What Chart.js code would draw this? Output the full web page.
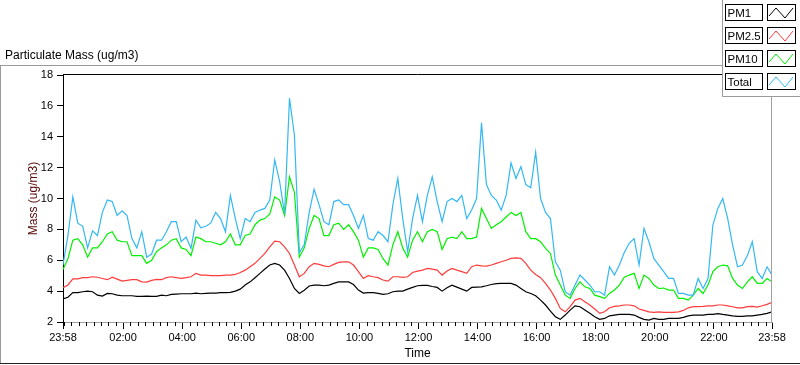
<!DOCTYPE html>
<html>
<head>
<meta charset="utf-8">
<script src="https://cdn.jsdelivr.net/npm/chart.js@4.4.0/dist/chart.umd.min.js"></script>
<style>
  html, body { margin: 0; padding: 0; background: #fff; }
  #wrap { width: 800px; height: 365px; position: relative; }
</style>
</head>
<body>
<div id="wrap"><canvas id="graph" width="800" height="365"></canvas></div>
<script>
// samples every 10 minutes, starting at 23:58
const STEP_MIN = 10;

const pm1 = [
  3.5, 3.6, 3.9, 3.9, 3.96, 4.0, 3.96, 3.74, 3.68, 3.85, 3.83, 3.74, 3.7, 3.7, 3.7, 3.66, 3.66, 3.68, 3.66, 3.66, 3.74, 3.7, 3.79, 3.81, 3.83, 3.83, 3.83, 3.87, 3.83,
  3.85, 3.87, 3.87, 3.9, 3.9, 3.92, 4.0, 4.13, 4.39, 4.6, 4.87, 5.15, 5.43, 5.69, 5.8, 5.69, 5.36, 4.82, 4.17, 3.85, 4.06, 4.33, 4.39, 4.39, 4.35, 4.39, 4.5, 4.6, 4.6,
  4.6, 4.43, 4.07, 3.87, 3.9, 3.9, 3.85, 3.79, 3.83, 3.96, 4.0, 4.0, 4.13, 4.24, 4.35, 4.37, 4.37, 4.3, 4.24, 4.0, 4.22, 4.39, 4.26, 4.13, 4.0, 4.24, 4.26, 4.28,
  4.35, 4.43, 4.48, 4.5, 4.5, 4.5, 4.39, 4.17, 3.96, 3.85, 3.7, 3.42, 3.1, 2.71, 2.34, 2.17, 2.45, 2.77, 3.05, 2.99, 2.77, 2.56, 2.34, 2.17, 2.23, 2.4, 2.45, 2.49, 2.49,
  2.49, 2.45, 2.3, 2.17, 2.12, 2.23, 2.17, 2.17, 2.23, 2.23, 2.23, 2.3, 2.4, 2.45, 2.45, 2.45, 2.49, 2.49, 2.54, 2.49, 2.45, 2.4, 2.36, 2.36, 2.4, 2.4, 2.45, 2.49, 2.56, 2.66
];

const pm25 = [
  4.22, 4.4, 4.8, 4.8, 4.87, 4.87, 4.93, 4.9, 4.82, 4.74, 4.9, 4.78, 4.65, 4.7, 4.74, 4.74, 4.6, 4.58, 4.7, 4.76, 4.74, 4.87, 4.93, 4.87, 4.82, 4.87, 4.93, 5.15, 5.04,
  5.04, 5.0, 5.0, 5.0, 5.04, 5.04, 5.08, 5.21, 5.36, 5.58, 5.8, 6.12, 6.44, 6.87, 7.24, 7.2, 6.87, 6.44, 5.69, 4.93, 5.15, 5.58, 5.8, 5.73, 5.64, 5.58, 5.73, 5.86, 5.9,
  5.9, 5.69, 5.26, 4.82, 5.0, 4.93, 4.87, 4.72, 4.65, 4.93, 4.93, 4.89, 4.93, 5.21, 5.3, 5.36, 5.47, 5.43, 5.36, 5.04, 5.3, 5.47, 5.36, 5.26, 5.15, 5.58, 5.69, 5.64,
  5.62, 5.69, 5.8, 5.9, 6.0, 6.12, 6.16, 6.12, 5.8, 5.36, 5.08, 4.87, 4.5, 4.07, 3.53, 2.88, 2.66, 2.99, 3.42, 3.53, 3.31, 3.1, 2.84, 2.56, 2.66, 2.92, 3.01, 3.05, 3.1,
  3.1, 3.05, 2.84, 2.75, 2.66, 2.62, 2.66, 2.62, 2.62, 2.62, 2.66, 2.75, 2.92, 2.99, 2.99, 3.01, 3.05, 3.05, 3.1, 3.1, 3.05, 2.99, 2.92, 2.92, 2.99, 3.01, 2.97, 3.05, 3.14, 3.27
];

const pm10 = [
  5.4, 6.1, 7.3, 7.4, 7.0, 6.2, 6.8, 6.8, 7.2, 7.7, 7.85, 7.3, 7.2, 7.2, 6.3, 6.3, 6.3, 5.8, 6.0, 6.55, 6.8, 7.0, 7.3, 7.4, 6.8, 6.7, 6.3, 7.5, 7.4,
  7.2, 7.2, 7.1, 7.0, 7.2, 7.7, 7.0, 7.0, 7.6, 7.7, 8.3, 8.6, 8.7, 9.0, 10.1, 9.9, 8.9, 11.4, 10.4, 6.2, 6.8, 8.06, 8.9, 8.7, 7.6, 7.6, 8.3, 8.4, 8.0,
  8.3, 7.85, 7.3, 6.2, 6.8, 6.8, 6.7, 6.1, 5.69, 7.0, 7.85, 6.8, 6.2, 7.3, 7.85, 7.2, 7.85, 8.0, 7.85, 6.7, 7.4, 7.5, 7.4, 7.85, 7.4, 7.4, 7.5, 9.36,
  8.7, 8.06, 8.3, 8.5, 8.8, 9.1, 8.9, 9.1, 7.85, 7.4, 7.4, 7.2, 6.77, 6.44, 5.04, 4.39, 3.74, 3.53, 4.17, 4.6, 4.28, 4.17, 3.74, 3.64, 3.53, 3.85, 4.07, 4.39, 4.9,
  5.04, 5.15, 4.17, 5.04, 4.82, 4.39, 4.17, 4.2, 4.07, 4.07, 3.53, 3.53, 3.42, 3.74, 4.17, 3.85, 4.39, 5.26, 5.58, 5.69, 5.64, 4.82, 4.39, 4.17, 4.6, 4.93, 4.5, 4.5, 4.82, 4.6
];

const total = [
  5.7, 7.6, 10.1, 8.4, 8.2, 6.8, 7.9, 7.6, 9.1, 9.9, 9.8, 8.9, 9.2, 8.9, 7.4, 6.8, 7.85, 6.2, 6.4, 7.3, 7.3, 7.85, 8.5, 8.5, 7.2, 7.5, 6.77, 8.6, 8.1,
  8.2, 8.4, 9.1, 8.7, 7.85, 10.2, 8.7, 7.4, 8.7, 8.5, 9.1, 9.25, 9.36, 9.9, 12.5, 11.1, 9.0, 16.5, 14.1, 6.5, 7.0, 9.1, 10.6, 9.6, 8.5, 8.3, 9.8, 9.9, 9.6,
  9.6, 8.9, 8.06, 8.9, 7.4, 7.3, 7.85, 7.6, 7.2, 9.6, 11.3, 8.7, 6.55, 8.7, 10.2, 8.5, 10.2, 11.4, 9.8, 8.5, 9.8, 10.0, 9.8, 10.2, 8.7, 9.25, 10.0, 14.9,
  10.9, 10.2, 9.9, 9.25, 10.2, 12.3, 11.3, 12.06, 10.9, 10.7, 13.0, 10.0, 9.1, 8.7, 5.9, 5.36, 3.96, 3.74, 4.39, 5.04, 4.72, 4.39, 3.96, 3.96, 3.74, 5.58, 5.04, 5.69, 6.5,
  7.1, 7.4, 5.69, 8.06, 7.2, 6.12, 5.69, 5.26, 4.82, 4.82, 3.85, 3.85, 3.74, 3.74, 4.82, 4.17, 4.82, 8.3, 9.36, 10.0, 8.7, 7.0, 5.58, 5.69, 6.3, 7.2, 5.26, 4.82, 5.58, 5.04
];

// x ticks: minutes after 23:58
const tickMinutes = [0, 122, 242, 362, 482, 602, 722, 842, 962, 1082, 1202, 1322, 1440];
const tickLabels = ["23:58", "02:00", "04:00", "06:00", "08:00", "10:00", "12:00", "14:00", "16:00", "18:00", "20:00", "22:00", "23:58"];
const yTicks = [2, 4, 6, 8, 10, 12, 14, 16, 18];

const seriesNames = ["PM1", "PM2.5", "PM10", "Total"];
const seriesColors = ["#000000", "#ff3b3b", "#00f000", "#33b8f5"];
const seriesValues = [pm1, pm25, pm10, total];

const FONT = "'Liberation Sans', Arial, sans-serif";

function toPoints(arr) {
  return arr.map((v, i) => ({ x: i * STEP_MIN, y: v }));
}

const framePlugin = {
  id: 'labviewFrame',
  beforeDraw: (chart) => {
    const { ctx } = chart;
    ctx.save();
    ctx.fillStyle = '#fff';
    ctx.fillRect(0, 0, chart.width, chart.height);
    ctx.fillStyle = '#000';
    ctx.font = '12px ' + FONT;
    ctx.textBaseline = 'alphabetic';
    ctx.fillText('Particulate Mass (ug/m3)', 5, 59);
    ctx.lineWidth = 1;
    ctx.strokeStyle = '#9a9a9a';
    ctx.beginPath();
    ctx.moveTo(0, 65.5); ctx.lineTo(722, 65.5);
    ctx.moveTo(0.5, 65); ctx.lineTo(0.5, 363);
    ctx.stroke();
    ctx.strokeStyle = '#222';
    ctx.beginPath();
    ctx.moveTo(0, 363.5); ctx.lineTo(800, 363.5);
    ctx.stroke();
    ctx.restore();
  },
  afterDraw: (chart) => {
    const { ctx, chartArea: a } = chart;
    const xs = chart.scales.x;
    ctx.save();
    ctx.lineWidth = 1;
    // plot frame: top dark, right light
    ctx.strokeStyle = '#000';
    ctx.beginPath();
    ctx.moveTo(a.left, a.top - 0.5); ctx.lineTo(a.right, a.top - 0.5);
    ctx.stroke();
    ctx.strokeStyle = '#a0a0a0';
    ctx.beginPath();
    ctx.moveTo(a.right - 0.5, a.top); ctx.lineTo(a.right - 0.5, a.bottom);
    ctx.stroke();
    // minor ticks every 15 min
    ctx.strokeStyle = '#000';
    ctx.beginPath();
    for (let m = 2; m < 1440; m += 15) {
      if (tickMinutes.indexOf(m) >= 0) continue;
      const px = Math.round(xs.getPixelForValue(m)) + 0.5;
      ctx.moveTo(px, a.bottom); ctx.lineTo(px, a.bottom + 4);
    }
    ctx.stroke();

    // legend panel
    ctx.fillStyle = '#fff';
    ctx.fillRect(722, 0, 78, 96);
    ctx.strokeStyle = '#9a9a9a';
    ctx.beginPath();
    ctx.moveTo(722.5, 0); ctx.lineTo(722.5, 96.5); ctx.lineTo(800, 96.5);
    ctx.stroke();
    chart.data.datasets.forEach((ds, i) => {
      const y0 = 4 + i * 23;
      ctx.lineWidth = 1;
      ctx.strokeStyle = '#000';
      ctx.strokeRect(725.5, y0 + 0.5, 37, 16);
      ctx.strokeRect(767.5, y0 + 0.5, 28, 16);
      ctx.fillStyle = '#000';
      ctx.font = '11.5px ' + FONT;
      ctx.fillText(ds.label, 727.5, y0 + 13);
      ctx.strokeStyle = ds.borderColor;
      ctx.beginPath();
      ctx.moveTo(769, y0 + 12);
      ctx.lineTo(776, y0 + 4);
      ctx.lineTo(785, y0 + 14);
      ctx.lineTo(793, y0 + 4);
      ctx.stroke();
    });
    ctx.restore();
  }
};

const ctx = document.getElementById('graph').getContext('2d');

new Chart(ctx, {
  type: 'line',
  data: {
    datasets: seriesNames.map((name, i) => ({
      label: name,
      data: toPoints(seriesValues[i]),
      borderColor: seriesColors[i],
      backgroundColor: seriesColors[i],
      borderWidth: 1.2,
      pointRadius: 0,
      tension: 0,
      fill: false,
      order: 3 - i,
    })),
  },
  plugins: [framePlugin],
  options: {
    responsive: false,
    animation: false,
    layout: {
      padding: { top: 75, right: 28, left: 0, bottom: 0 },
    },
    plugins: {
      legend: { display: false },
      tooltip: { enabled: false },
    },
    scales: {
      x: {
        type: 'linear',
        min: 0,
        max: 1440,
        afterBuildTicks: (scale) => {
          scale.ticks = tickMinutes.map(v => ({ value: v }));
        },
        afterFit: (scale) => { scale.height = 43; },
        ticks: {
          autoSkip: false,
          maxRotation: 0,
          padding: 2,
          color: '#000',
          font: { size: 11, family: FONT },
          callback: (value, index) => tickLabels[index],
        },
        grid: {
          drawOnChartArea: false,
          drawTicks: true,
          tickLength: 7,
          tickColor: '#000',
        },
        border: { color: '#a0a0a0', width: 1 },
        title: {
          display: true,
          text: 'Time',
          color: '#000',
          font: { size: 12, family: FONT },
          padding: { top: 0, bottom: 4 },
        },
      },
      y: {
        min: 2,
        max: 18,
        afterBuildTicks: (scale) => {
          scale.ticks = yTicks.map(v => ({ value: v }));
        },
        afterFit: (scale) => { scale.width = 63; },
        ticks: {
          padding: 4,
          color: '#000',
          font: { size: 11, family: FONT },
        },
        grid: {
          drawOnChartArea: false,
          drawTicks: true,
          tickLength: 6,
          tickColor: '#000',
        },
        border: { color: '#000', width: 1 },
        title: {
          display: true,
          text: 'Mass (ug/m3)',
          color: '#5a0a0a',
          font: { size: 12, family: FONT },
          padding: { top: 26, bottom: 0 },
        },
      },
    },
  },
});
</script>
</body>
</html>
